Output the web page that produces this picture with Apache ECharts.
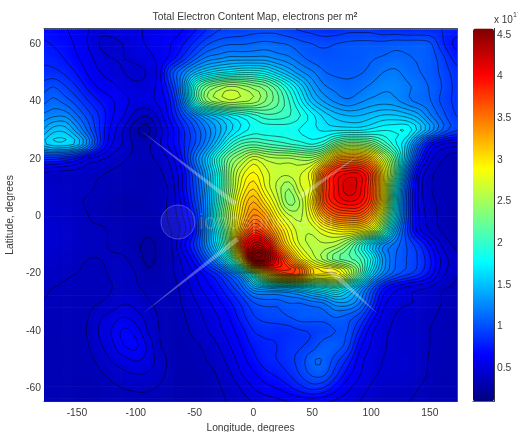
<!DOCTYPE html>
<html><head><meta charset="utf-8">
<style>html,body{margin:0;padding:0;background:#fff}#c{width:518px;height:432px}</style>
<script src="https://cdn.jsdelivr.net/npm/echarts@6/dist/echarts.min.js"></script>
</head><body><div id="c"></div>
<script>
const longitudes=[-180,-170,-160,-150,-140,-130,-120,-110,-100,-90,-80,-70,-60,-50,-40,-30,-20,-10,0,10,20,30,40,50,60,70,80,90,100,110,120,130,140,150,160,170,180];
const latitudes=[65,60,55,50,45,40,35,30,25,20,15,10,5,0,-5,-10,-15,-20,-25,-30,-35,-40,-45,-50,-55,-60,-65];
const lat65=[.70,.68,.65,.60,.55,.48,.52,.54,.54,.56,.58,.60,.64,.72,.82,.90,.93,.95,.97,.97,.97,.93,.90,.88,.85,.85,.88,.88,.88,.85,.85,.83,.83,.83,.82,.78,.72];
const lat60=[.75,.72,.68,.62,.54,.45,.42,.47,.52,.56,.6,.64,.72,.85,.98,1.05,1.08,1.08,1.1,1.12,1.1,1.08,1.03,1.0,.98,1.0,1.02,1.03,1.03,1.03,1.05,1.05,1.05,1.02,.85,.72,.7];
const lat55=[.8,.78,.72,.65,.58,.5,.46,.46,.48,.52,.58,.68,.85,1.05,1.2,1.25,1.3,1.3,1.3,1.3,1.25,1.2,1.12,1.05,1.03,1.03,1.04,1.05,1.08,1.1,1.12,1.1,1.08,1.05,.95,.8,.75];
const lat50=[.85,.85,.8,.72,.62,.55,.5,.46,.44,.47,.6,.95,1.2,1.45,1.6,1.7,1.75,1.8,1.8,1.75,1.6,1.45,1.3,1.2,1.1,1.07,1.07,1.08,1.12,1.18,1.2,1.15,1.1,1.05,.98,.88,.8];
const lat45=[.95,1.0,.92,.82,.7,.62,.58,.52,.48,.5,.6,.85,1.3,1.95,2.3,2.45,2.55,2.5,2.4,2.3,2.1,1.85,1.6,1.35,1.2,1.15,1.12,1.15,1.2,1.25,1.25,1.2,1.15,1.08,1.0,.9,.85];
const lat40=[1.05,1.12,1.05,.95,.82,.72,.65,.58,.52,.52,.58,.75,1.2,1.9,2.35,2.5,2.6,2.55,2.5,2.35,2.2,2.0,1.75,1.5,1.35,1.25,1.2,1.25,1.3,1.32,1.3,1.22,1.15,1.1,.98,.9,.88];
const lat35=[1.2,1.25,1.25,1.1,.95,.8,.65,.55,.42,.38,.5,.7,.95,1.2,1.45,1.6,1.75,1.85,1.95,2.05,2.05,2.0,1.9,1.75,1.6,1.5,1.45,1.45,1.5,1.55,1.55,1.5,1.4,1.2,1.05,.92,.9];
const lat30=[1.35,1.5,1.5,1.3,1.05,.8,.6,.45,.3,.25,.42,.6,.8,1.0,1.2,1.4,1.6,1.75,1.85,1.85,1.85,1.85,1.8,1.75,1.7,1.7,1.7,1.7,1.75,1.8,1.8,1.8,1.6,1.35,1.1,.95,.9];
const lat25=[1.5,1.6,1.6,1.5,1.2,.8,.55,.45,.35,.35,.45,.6,.8,1.0,1.25,1.55,1.9,2.1,2.15,2.1,2.05,2.0,1.95,1.9,2.0,2.3,2.45,2.45,2.35,2.1,1.85,1.6,1.1,.7,.55,.5,.48];
const lat20=[.85,.85,.8,.7,.55,.48,.42,.38,.35,.35,.4,.5,.75,1.15,1.5,1.95,2.3,2.5,2.7,2.6,2.55,2.55,2.5,2.5,2.75,3.3,3.4,3.4,3.2,2.7,2.2,1.5,.85,.5,.38,.33,.32];
const lat15=[.45,.43,.42,.42,.4,.38,.36,.35,.33,.33,.35,.45,.65,1.0,1.4,1.85,2.4,2.75,2.9,2.75,2.65,2.65,2.7,2.9,3.6,3.95,4.05,4.05,3.75,3.0,2.25,1.25,.6,.4,.35,.33,.32];
const lat10=[.42,.42,.4,.4,.38,.36,.35,.34,.33,.33,.35,.4,.65,.95,1.35,1.85,2.4,2.85,3.05,2.8,2.6,2.45,2.7,2.85,3.7,4.0,4.2,4.1,3.75,3.0,1.95,1.05,.55,.38,.34,.33,.32];
const lat5=[.42,.42,.4,.38,.36,.34,.32,.3,.3,.32,.35,.4,.6,.9,1.3,1.9,2.5,3.0,3.25,3.0,2.7,2.4,2.55,3.0,3.7,3.95,4.05,4.0,3.7,2.95,1.85,1.0,.55,.4,.35,.33,.32];
const lat0=[.45,.44,.42,.4,.37,.35,.33,.32,.32,.32,.34,.4,.55,.8,1.3,2.0,2.6,3.1,3.45,3.3,2.9,2.65,2.6,2.85,3.3,3.55,3.6,3.6,3.3,2.6,1.75,1.0,.57,.42,.35,.32,.32];
const latS5=[.45,.45,.43,.4,.38,.38,.36,.34,.33,.3,.33,.37,.5,.75,1.25,1.8,2.5,3.3,3.8,3.6,3.2,2.85,2.65,2.65,2.8,2.9,2.95,2.9,2.7,2.2,1.45,.95,.6,.45,.36,.33,.32];
const latS10=[.45,.45,.43,.4,.38,.38,.36,.34,.3,.26,.3,.36,.6,.85,1.25,1.7,2.4,3.7,4.3,4.2,3.5,3.0,2.7,2.6,2.6,2.55,2.35,2.0,1.6,1.3,1.15,1.0,.85,.65,.45,.36,.33];
const latS15=[.42,.42,.4,.38,.37,.37,.38,.38,.33,.26,.3,.35,.5,.7,1.0,1.35,1.9,2.9,4.4,4.5,4.05,3.5,3.0,2.7,2.5,2.3,2.2,2.1,1.8,1.35,1.1,1.0,.9,.75,.53,.42,.35];
const latS20=[.4,.4,.38,.37,.36,.36,.38,.4,.37,.3,.32,.35,.45,.55,.7,.85,1.1,1.45,2.2,3.0,3.5,3.7,3.6,3.1,3.0,3.0,2.7,2.2,1.6,1.25,1.05,.95,.85,.7,.5,.4,.34];
const latS25=[.38,.37,.36,.35,.35,.35,.37,.38,.38,.35,.33,.33,.4,.5,.6,.7,.85,1.05,1.35,1.45,1.5,1.55,1.65,1.75,1.85,1.95,1.7,1.4,1.05,.75,.6,.52,.48,.45,.38,.36,.33];
const latS30=[.37,.36,.35,.35,.35,.37,.4,.45,.43,.38,.35,.33,.38,.45,.52,.62,.72,.85,1.0,1.05,1.05,1.1,1.1,1.15,1.2,1.35,1.35,1.2,.9,.6,.5,.47,.45,.4,.37,.35,.32];
const latS35=[.35,.35,.35,.35,.37,.45,.5,.55,.5,.43,.36,.33,.36,.42,.48,.55,.65,.78,.9,.95,.97,1.0,1.05,1.05,1.05,1.1,1.05,.95,.72,.52,.46,.43,.42,.38,.36,.33,.32];
const latS40=[.35,.34,.34,.35,.38,.48,.56,.66,.6,.46,.37,.33,.34,.4,.45,.52,.6,.7,.82,.85,.85,.87,.9,.92,.95,1.0,1.0,.8,.58,.48,.45,.43,.42,.37,.35,.33,.32];
const latS45=[.34,.33,.33,.34,.37,.45,.53,.64,.66,.53,.38,.33,.32,.35,.4,.46,.55,.65,.75,.8,.82,.88,.9,.95,1.05,1.05,.95,.68,.54,.47,.45,.43,.42,.37,.34,.33,.32];
const latS50=[.33,.33,.33,.33,.35,.4,.47,.52,.56,.52,.42,.35,.33,.33,.37,.42,.5,.6,.7,.78,.82,.88,.95,1.08,1.08,.95,.8,.6,.5,.46,.45,.45,.42,.36,.34,.33,.32];
const latS55=[.33,.33,.33,.33,.33,.36,.4,.44,.46,.45,.4,.34,.32,.32,.34,.38,.45,.55,.62,.7,.75,.82,.92,1.02,1.02,.85,.68,.56,.48,.45,.44,.44,.4,.36,.33,.33,.32];
const latS60=[.33,.33,.33,.32,.32,.33,.35,.37,.38,.38,.36,.33,.32,.31,.33,.36,.4,.47,.55,.6,.64,.7,.78,.84,.8,.68,.57,.5,.45,.42,.41,.4,.37,.35,.33,.33,.32];
const latS65=[.36,.35,.34,.33,.33,.33,.33,.34,.35,.35,.34,.33,.32,.32,.33,.35,.38,.42,.46,.5,.52,.54,.56,.57,.55,.52,.5,.46,.42,.4,.38,.37,.36,.34,.33,.33,.32];
const rows=[lat65,lat60,lat55,lat50,lat45,lat40,lat35,lat30,lat25,lat20,lat15,lat10,lat5,lat0,latS5,latS10,latS15,latS20,latS25,latS30,latS35,latS40,latS45,latS50,latS55,latS60,latS65];
const colorTicks=[0.5,1,1.5,2,2.5,3,3.5,4,4.5];
const lonTicks=[-150,-100,-50,0,50,100,150];
const latTicks=[-60,-40,-20,0,20,40,60];
const jetStops=['#00007f','#0000ff','#007fff','#00ffff','#7fff7f','#ffff00','#ff7f00','#ff0000','#7f0000'];
const vMin=0.098,vMax=4.578,level0=0.1,levelStep=0.09;
const FONT='"Liberation Sans",Arial,sans-serif',TXT='#3a3a3a',AX='#4a5068';

const stopRGB=jetStops.map(h=>[1,3,5].map(i=>parseInt(h.substr(i,2),16)));
function jet(v){
  let t=(v-vMin)/(vMax-vMin);t=Math.max(0,Math.min(1,t))*(stopRGB.length-1);
  const i=Math.min(Math.floor(t),stopRGB.length-2),f=t-i,a=stopRGB[i],b=stopRGB[i+1];
  return 'rgb('+[0,1,2].map(k=>Math.round(a[k]+(b[k]-a[k])*f)).join(',')+')';
}
const cr=(p0,p1,p2,p3,t)=>p1+.5*t*(p2-p0+t*(2*p0-5*p1+4*p2-p3+t*(3*(p1-p2)+p3-p0)));
const at=(r,c)=>rows[Math.max(0,Math.min(rows.length-1,r))][Math.max(0,Math.min(longitudes.length-1,c))];
// Shading between the read grid values, as a shaded contour plot does
function shade(r,c,v,u){
  const q=[-1,0,1,2].map(dr=>cr(at(r+dr,c-1),at(r+dr,c),at(r+dr,c+1),at(r+dr,c+2),u));
  return cr(q[0],q[1],q[2],q[3],v);
}
const cells=[];
for(let r=0;r<rows.length-1;r++)for(let c=0;c<longitudes.length-1;c++)cells.push([longitudes[c],latitudes[r],longitudes[c+1],latitudes[r+1],r,c]);
const SUB=6,CSUB=3;
function renderFill(p,api){
  const d=cells[p.dataIndex],tl=api.coord([d[0],d[1]]),br=api.coord([d[2],d[3]]);
  const w=(br[0]-tl[0])/SUB,h=(br[1]-tl[1])/SUB,children=[];
  for(let i=0;i<SUB;i++)for(let j=0;j<SUB;j++)
    children.push({type:'rect',shape:{x:tl[0]+i*w,y:tl[1]+j*h,width:w+.7,height:h+.7},style:{fill:jet(shade(d[4],d[5],(j+.5)/SUB,(i+.5)/SUB))},silent:true});
  return {type:'group',children};
}
function renderLines(p,api){
  const d=cells[p.dataIndex],tl=api.coord([d[0],d[1]]),br=api.coord([d[2],d[3]]),children=[];
  const W=(br[0]-tl[0])/CSUB,H=(br[1]-tl[1])/CSUB;
  for(let i=0;i<CSUB;i++)for(let j=0;j<CSUB;j++){
    const x0=tl[0]+i*W,y0=tl[1]+j*H,x1=x0+W,y1=y0+H;
    const a=shade(d[4],d[5],j/CSUB,i/CSUB),b=shade(d[4],d[5],j/CSUB,(i+1)/CSUB),c=shade(d[4],d[5],(j+1)/CSUB,i/CSUB),e=shade(d[4],d[5],(j+1)/CSUB,(i+1)/CSUB);
    const lo=Math.min(a,b,c,e),hi=Math.max(a,b,c,e);
    for(let n=Math.ceil((lo-level0)/levelStep);level0+n*levelStep<=hi;n++){
      const L=level0+n*levelStep+1e-4,pts=[];
      if((a<L)!==(b<L))pts.push([x0+W*(L-a)/(b-a),y0]);
      if((b<L)!==(e<L))pts.push([x1,y0+H*(L-b)/(e-b)]);
      if((e<L)!==(c<L))pts.push([x0+W*(L-c)/(e-c),y1]);
      if((c<L)!==(a<L))pts.push([x0,y0+H*(L-a)/(c-a)]);
      for(let k=0;k+1<pts.length;k+=2)children.push({type:'line',shape:{x1:pts[k][0],y1:pts[k][1],x2:pts[k+1][0],y2:pts[k+1][1]},style:{stroke:'rgba(0,0,0,0.72)',lineWidth:.7},silent:true});
    }
  }
  return {type:'group',children};
}
const flare=(pts)=>({type:'polygon',shape:{points:pts},style:{fill:'rgba(255,255,255,0.3)'},silent:true,z:50});
const chart=echarts.init(document.getElementById('c'),null,{renderer:'canvas'});
chart.setOption({
  animation:false,backgroundColor:'#fff',
  title:{text:'Total Electron Content Map, electrons per m{s|2}',left:250,top:7,textAlign:'center',
    textStyle:{fontFamily:FONT,fontSize:10.3,fontWeight:'normal',color:TXT,rich:{s:{fontSize:7,fontWeight:'bold',verticalAlign:'top',color:TXT,fontFamily:FONT}}}},
  grid:[{left:44,top:28.5,width:413,height:373,outerBoundsMode:'none'},{left:473,top:28.5,width:21,height:373,outerBoundsMode:'none'}],
  xAxis:[
    {gridIndex:0,type:'value',min:-178,max:173,position:'bottom',name:'Longitude, degrees',nameLocation:'middle',nameGap:19,
     nameTextStyle:{fontFamily:FONT,fontSize:10.3,color:TXT},
     axisLine:{onZero:false,lineStyle:{color:AX}},axisTick:{inside:true,length:3,customValues:lonTicks,lineStyle:{color:AX}},
     axisLabel:{customValues:lonTicks,fontFamily:FONT,fontSize:10.3,color:TXT,margin:7},splitLine:{show:false}},
    {gridIndex:0,type:'value',min:-178,max:173,position:'top',axisLine:{onZero:false,lineStyle:{color:AX}},axisTick:{show:false},axisLabel:{show:false},splitLine:{show:false}},
    {gridIndex:1,type:'value',min:0,max:1,axisLine:{onZero:false,lineStyle:{color:AX}},axisTick:{show:false},axisLabel:{show:false},splitLine:{show:false}}
  ],
  yAxis:[
    {gridIndex:0,type:'value',min:-64.5,max:65.3,position:'left',name:'Latitude, degrees',nameLocation:'middle',nameGap:24,nameRotate:90,
     nameTextStyle:{fontFamily:FONT,fontSize:10.3,color:TXT},
     axisLine:{onZero:false,lineStyle:{color:AX}},axisTick:{inside:true,length:3,customValues:latTicks,lineStyle:{color:AX}},
     axisLabel:{customValues:latTicks,fontFamily:FONT,fontSize:10.3,color:TXT,margin:3},splitLine:{show:false}},
    {gridIndex:0,type:'value',min:-64.5,max:65.3,position:'right',axisLine:{onZero:false,lineStyle:{color:AX}},axisTick:{show:false},axisLabel:{show:false},splitLine:{show:false}},
    {gridIndex:1,type:'value',min:vMin,max:vMax,position:'right',axisLine:{onZero:false,lineStyle:{color:'#333'}},
     axisTick:{inside:true,length:2,customValues:colorTicks,lineStyle:{color:'#222'}},
     axisLabel:{customValues:colorTicks,fontFamily:FONT,fontSize:10.3,color:TXT,margin:3,formatter:v=>String(v)},splitLine:{show:false}}
  ],
  visualMap:{type:'continuous',show:true,seriesIndex:[],min:vMin,max:vMax,calculable:false,hoverLink:false,realtime:false,silent:true,
    left:473,top:28.5,itemWidth:21,itemHeight:373,text:['',''],showLabel:false,padding:0,inRange:{color:jetStops},z:1,textStyle:{fontSize:0}},
  series:[
    {name:'TEC',type:'custom',xAxisIndex:0,yAxisIndex:0,coordinateSystem:'cartesian2d',clip:true,silent:true,progressive:0,data:cells.map((c,i)=>[c[0],c[1],i]),renderItem:renderFill,z:2},
    {name:'TEC contours',type:'custom',xAxisIndex:0,yAxisIndex:0,coordinateSystem:'cartesian2d',clip:true,silent:true,progressive:0,data:cells.map((c,i)=>[c[0],c[1],i]),renderItem:renderLines,z:3}
  ],
  graphic:[
    flare([[140,130],[237,202],[234,206]]),
    flare([[142,314],[236,237],[239,241]]),
    flare([[378,314],[326,271],[330,266]]),
    flare([[362,153],[298,195],[301,199]]),
    {type:'circle',shape:{cx:178,cy:222,r:17},style:{fill:'rgba(255,255,255,0.08)',stroke:'rgba(255,255,255,0.25)',lineWidth:1},silent:true,z:50},
    {type:'text',left:199,top:212,silent:true,z:50,style:{text:'ionosphere.ru',fontFamily:FONT,fontSize:22,fill:'rgba(255,255,255,0.18)'}},
    {type:'text',left:494,top:15,silent:true,z:60,style:{text:'x 10',fontFamily:FONT,fontSize:10,fill:TXT}},
    {type:'text',left:513,top:12,silent:true,z:60,style:{text:'17',fontFamily:FONT,fontSize:7,fill:TXT}}
  ]
});
</script></body></html>
